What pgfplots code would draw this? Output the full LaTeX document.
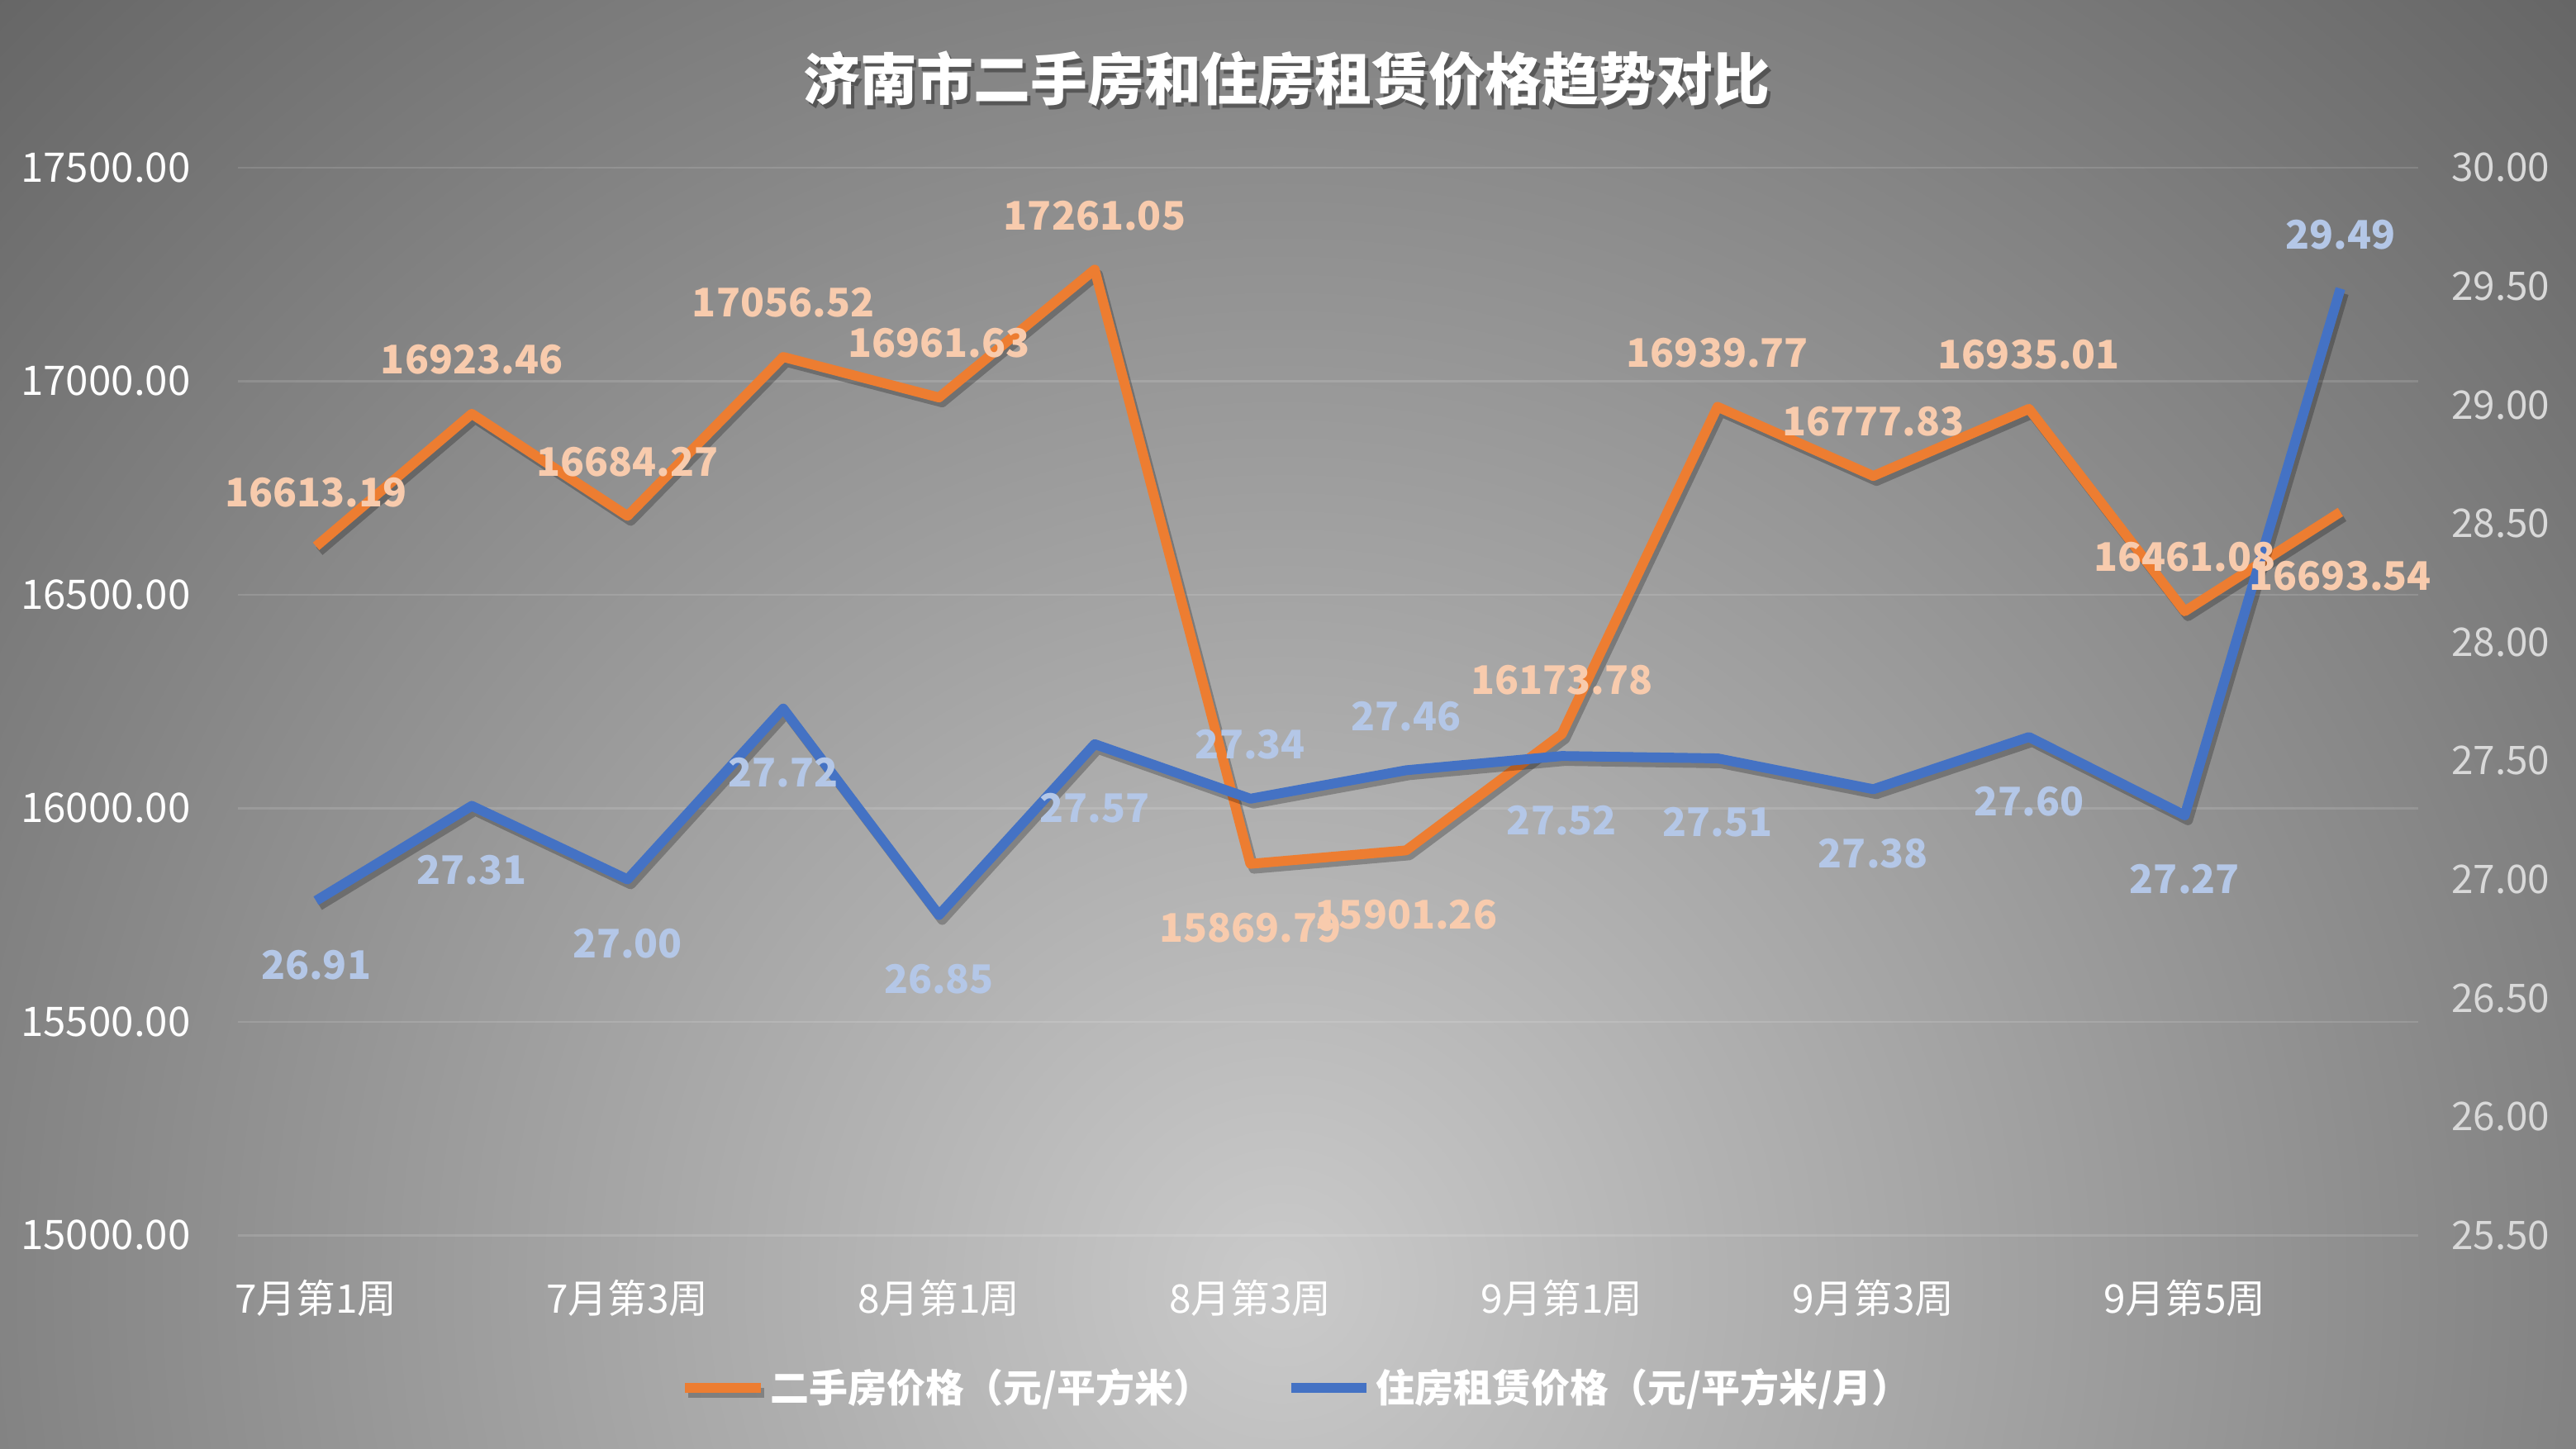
\documentclass[border=0pt]{standalone}
\usepackage{fontspec}
\setmainfont{Noto Sans CJK SC}
\usepackage{pgfplots}
\pgfplotsset{compat=1.18}
\usepackage{pgfplotstable}

\definecolor{ser1}{HTML}{ED7D31}
\definecolor{ser2}{HTML}{4472C4}
\definecolor{lbl1}{HTML}{F8CBAD}
\definecolor{lbl2}{HTML}{B4C7E7}
\definecolor{bgin}{HTML}{CACACA}
\definecolor{bgout}{HTML}{646464}
\definecolor{rtick}{HTML}{D9D9D9}

% pos: 1 = label above the point, -1 = below
\pgfplotstableread{
x y pos
0 16613.19 1
1 16923.46 1
2 16684.27 1
3 17056.52 1
4 16961.63 1
5 17261.05 1
6 15869.79 -1
7 15901.26 -1
8 16173.78 1
9 16939.77 1
10 16777.83 1
11 16935.01 1
12 16461.08 1
13 16693.54 -1
}\houseprice

\pgfplotstableread{
x y pos
0 26.91 -1
1 27.31 -1
2 27.00 -1
3 27.72 -1
4 26.85 -1
5 27.57 -1
6 27.34 1
7 27.46 1
8 27.52 -1
9 27.51 -1
10 27.38 -1
11 27.60 -1
12 27.27 -1
13 29.49 1
}\rentprice

\pgfplotsset{
  base/.style={
    scale only axis, width=663.5pt, height=325pt,
    at={(72.5pt,65pt)}, anchor=south west,
    xmin=-0.5, xmax=13.5,
    axis line style={draw=none}, major tick length=0pt,
    tick style={draw=none},
    scaled y ticks=false,
    /pgf/number format/assume math mode=true,
    /pgf/number format/fixed,
    /pgf/number format/fixed zerofill,
    /pgf/number format/precision=2,
    /pgf/number format/1000 sep={},
  },
  leftscale/.style={ymin=15000, ymax=17500, ytick={15000,15500,...,17500}},
  rightscale/.style={ymin=25.5, ymax=30, ytick={25.5,26,...,30}},
  shadowed/.style={preaction={draw=black, draw opacity=0.25, line width=3pt,
    transform canvas={xshift=1pt,yshift=-1.5pt}}},
  datalabels/.style={
    draw=none, mark=none, forget plot,
    point meta=explicit symbolic,
    visualization depends on={\thisrow{pos} \as \lpos},
    nodes near coords,
    every node near coord/.append style={anchor=center, yshift=\lpos*18pt-1.5pt,
      font=\bfseries\fontsize{12}{14}\selectfont, text=#1, inner sep=0pt},
  },
}

\begin{document}
\begin{tikzpicture}
% background
\begin{scope}
  \clip (0,0) rectangle (784pt,441pt);
  \shade[inner color=bgin, outer color=bgout] (390pt,50pt) circle (565pt);
\end{scope}

\node[text=black, opacity=0.35, font=\bfseries\fontsize{17.3}{20}\selectfont] at (392.5pt,415.8pt) {济南市二手房和住房租赁价格趋势对比};
\node[text=white, font=\bfseries\fontsize{17.3}{20}\selectfont] at (391.5pt,417pt) {济南市二手房和住房租赁价格趋势对比};

% left axis: grid, house price line, legend
\begin{axis}[base, leftscale,
  ymajorgrids=true,
  major grid style={draw=white, draw opacity=0.13, line width=0.6pt},
  xtick={0,2,...,12},
  xticklabels={7月第1周,7月第3周,8月第1周,8月第3周,9月第1周,9月第3周,9月第5周},
  xticklabel style={font=\fontsize{12}{14}\selectfont, text=white, yshift=-10pt},
  yticklabel style={font=\fontsize{12.4}{15}\selectfont, text=white, xshift=-11pt},
  legend style={at={(0.486,-0.143)}, anchor=center, draw=none, fill=none,
    legend columns=2, font=\bfseries\fontsize{11.8}{13}\selectfont, text=white,
    /tikz/every even column/.append style={column sep=21pt},
    nodes={inner sep=1.5pt}},
  legend image code/.code={\draw[#1, line width=3pt] (0pt,0pt) -- (23pt,0pt);},
]
\addplot[ser1, line width=3pt, line join=round, shadowed] table[x=x, y=y] {\houseprice};
\addlegendentry{二手房价格（元/平方米）}
\addlegendimage{ser2, line width=3pt}
\addlegendentry{住房租赁价格（元/平方米/月）}
\end{axis}

% right axis: rent line and its labels
\begin{axis}[base, rightscale, clip=false,
  axis y line*=right, xtick=\empty,
  yticklabel style={font=\fontsize{12}{14}\selectfont, text=rtick, xshift=6.5pt},
]
\addplot[ser2, line width=3pt, line join=round, shadowed] table[x=x, y=y] {\rentprice};
\addplot[datalabels=lbl2] table[x=x, y=y, meta=y] {\rentprice};
\end{axis}

% house price labels on top
\begin{axis}[base, leftscale, clip=false, hide axis]
\addplot[datalabels=lbl1] table[x=x, y=y, meta=y] {\houseprice};
\end{axis}

\pgfresetboundingbox
\useasboundingbox (0,0) rectangle (784pt,441pt);
\end{tikzpicture}
\end{document}
